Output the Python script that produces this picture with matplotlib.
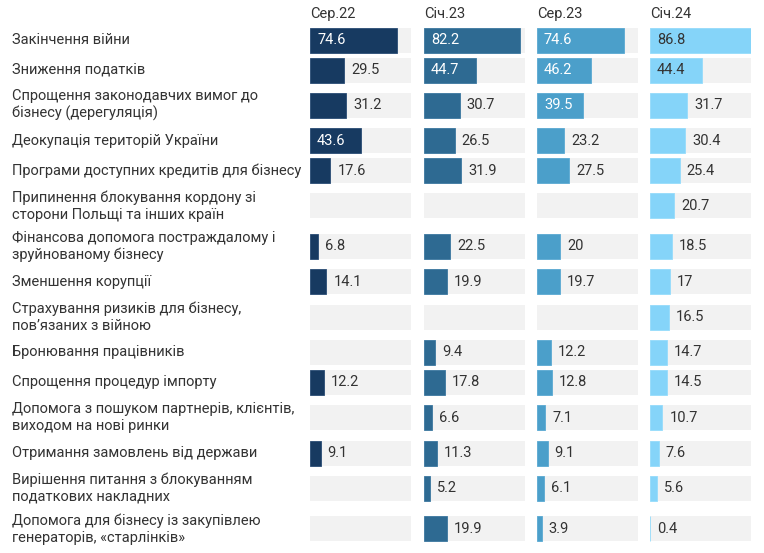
import numpy as np
import matplotlib
matplotlib.use("Agg")
import matplotlib.pyplot as plt

plt.rcParams['font.family'] = ['Roboto', 'DejaVu Sans']

categories = [
    "Закінчення війни",
    "Зниження податків",
    "Спрощення законодавчих вимог до\nбізнесу (дерегуляція)",
    "Деокупація територій України",
    "Програми доступних кредитів для бізнесу",
    "Припинення блокування кордону зі\nсторони Польщі та інших країн",
    "Фінансова допомога постраждалому і\nзруйнованому бізнесу",
    "Зменшення корупції",
    "Страхування ризиків для бізнесу,\nпов’язаних з війною",
    "Бронювання працівників",
    "Спрощення процедур імпорту",
    "Допомога з пошуком партнерів, клієнтів,\nвиходом на нові ринки",
    "Отримання замовлень від держави",
    "Вирішення питання з блокуванням\nподаткових накладних",
    "Допомога для бізнесу із закупівлею\nгенераторів, «старлінків»",
]

periods = ["Сер.22", "Січ.23", "Сер.23", "Січ.24"]

ser22 = [74.6, 29.5, 31.2, 43.6, 17.6, None, 6.8, 14.1, None, None, 12.2, None, 9.1, None, None]
sich23 = [82.2, 44.7, 30.7, 26.5, 31.9, None, 22.5, 19.9, None, 9.4, 17.8, 6.6, 11.3, 5.2, 19.9]
ser23 = [74.6, 46.2, 39.5, 23.2, 27.5, None, 20.0, 19.7, None, 12.2, 12.8, 7.1, 9.1, 6.1, 3.9]
sich24 = [86.8, 44.4, 31.7, 30.4, 25.4, 20.7, 18.5, 17.0, 16.5, 14.7, 14.5, 10.7, 7.6, 5.6, 0.4]
series = [ser22, sich23, ser23, sich24]

# styles
colors = ["#173a61", "#2e6a92", "#4b9fca", "#85d4f9"]
edge_colors = ["#2a4d75", "#3c78a0", "#5aaad3", "#95dcfb"]
inside_text = ["white", "white", "white", "#333333"]
grey = "#f2f2f2"
text_col = "#333333"

W, H = 764, 553
fig = plt.figure(figsize=(W / 100, H / 100), dpi=100)

# text axes in pixel coords
tax = fig.add_axes([0, 0, 1, 1])
tax.set_xlim(0, W)
tax.set_ylim(H, 0)
tax.axis("off")

# row centers derived from number of label lines
heights = [30 if "\n" not in c else 40.6 for c in categories]
centers = []
y = 40
for i, h in enumerate(heights):
    if i > 0:
        y += heights[i - 1] / 2 + h / 2
    centers.append(y)
centers = np.array(centers)

for c, yc in zip(categories, centers):
    tax.text(12, yc, c, ha="left", va="center", fontsize=10.5, color=text_col,
             linespacing=1.25)

col_x = [310, 424, 537, 650]
col_w = 101
all_vals = [v for s in series for v in s if v is not None]
vmax = max(all_vals)
bar_h = 25
thresh = 35

for k, (s, x0) in enumerate(zip(series, col_x)):
    ax = fig.add_axes([x0 / W, 0, col_w / W, 1])
    ax.set_xlim(0, vmax)
    ax.set_ylim(H, 0)
    ax.axis("off")
    ax.barh(centers, [vmax] * len(centers), height=bar_h, color=grey, linewidth=0)
    vals = np.array([np.nan if v is None else v for v in s])
    mask = ~np.isnan(vals)
    ax.barh(centers[mask], vals[mask], height=bar_h, color=colors[k],
            edgecolor=edge_colors[k], linewidth=0.6)
    px = vmax / col_w  # data units per pixel
    for v, yc in zip(s, centers):
        if v is None:
            continue
        lab = f"{v:g}"
        if v > thresh:
            ax.text(7 * px, yc, lab, ha="left", va="center", fontsize=10.5,
                    color=inside_text[k])
        else:
            ax.text(v + 7 * px, yc, lab, ha="left", va="center", fontsize=10.5,
                    color=text_col)
    tax.text(x0, 14, periods[k], ha="left", va="center", fontsize=10.5, color=text_col)

fig.savefig("out.png", dpi=100, facecolor="white")
